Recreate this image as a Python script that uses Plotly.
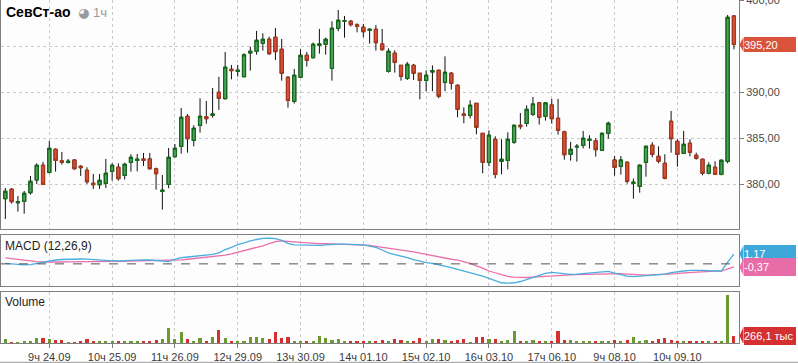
import plotly.graph_objects as go

# ---------------- data ----------------
opens = [378.44, 379.46, 378.00, 378.15, 379.09, 380.47, 382.07, 381.30, 383.80, 382.54,
         382.39, 382.64, 381.96, 381.52, 380.11, 379.96, 380.11, 381.41, 381.85, 380.98,
         382.39, 382.61, 382.75, 382.75, 381.67, 379.24, 380.00, 383.01, 384.13, 387.39,
         384.78, 386.41, 387.32, 387.50, 390.00, 389.31, 392.50, 392.28, 391.70, 394.28,
         394.46, 395.33, 395.76, 395.98, 394.67, 391.63, 389.02, 391.63, 394.02, 393.77,
         395.11, 395.22, 392.61, 396.96, 397.72, 397.72, 397.32, 397.07, 396.74, 396.85,
         395.25, 392.28, 394.24, 392.93, 391.52, 392.93, 392.07, 391.30, 392.21, 392.39,
         391.09, 392.07, 390.76, 387.64, 387.50, 388.80, 385.54, 382.39, 384.89, 382.50,
         382.61, 384.57, 386.41, 386.63, 387.61, 388.84, 387.39, 388.62, 387.17, 385.69,
         383.26, 384.06, 384.24, 384.78, 384.71, 383.70, 385.54, 382.64, 381.96, 382.39,
         380.11, 379.78, 382.39, 384.24, 383.04, 382.28, 386.85, 384.67, 383.37, 384.46,
         383.15, 382.72, 381.20, 381.85, 381.09, 382.50, 398.29]
highs = [379.60, 379.60, 378.73, 379.28, 380.91, 382.28, 382.43, 384.71, 383.91, 383.51,
         382.75, 382.72, 382.07, 381.85, 381.12, 381.12, 382.75, 382.28, 382.28, 382.36,
         383.26, 383.30, 383.41, 383.41, 381.81, 381.01, 383.95, 384.38, 388.30, 387.64,
         386.41, 389.35, 389.06, 390.47, 391.67, 394.38, 392.97, 392.97, 394.24, 394.96,
         396.67, 396.41, 396.05, 396.99, 395.80, 391.74, 392.54, 394.67, 394.38, 395.40,
         396.88, 395.94, 397.72, 398.95, 398.30, 397.86, 397.50, 397.43, 396.92, 397.32,
         396.88, 394.78, 394.57, 392.93, 393.30, 393.08, 392.07, 392.39, 392.93, 392.46,
         393.91, 392.21, 390.87, 388.37, 389.13, 388.80, 385.54, 385.87, 385.22, 384.89,
         385.65, 386.50, 387.75, 388.59, 389.49, 388.95, 388.95, 389.28, 389.28, 385.83,
         384.60, 384.38, 385.80, 385.33, 385.00, 385.62, 386.81, 383.08, 383.08, 382.50,
         380.62, 382.17, 384.20, 384.57, 384.13, 383.26, 387.97, 384.89, 385.80, 384.89,
         383.44, 382.79, 382.39, 382.50, 382.72, 398.40, 398.40]
lows = [376.23, 377.90, 377.03, 376.81, 378.88, 380.04, 379.95, 381.16, 381.38, 382.14,
        382.25, 381.59, 380.91, 380.04, 379.49, 379.49, 379.60, 380.40, 380.40, 380.51,
        381.38, 381.41, 381.99, 381.59, 379.42, 377.25, 379.57, 382.90, 383.33, 383.44,
        384.13, 385.62, 386.59, 387.25, 388.08, 389.20, 391.41, 391.70, 391.63, 392.36,
        394.09, 394.53, 394.06, 393.51, 391.27, 388.33, 388.77, 391.55, 392.79, 393.66,
        394.20, 394.09, 391.27, 396.63, 395.94, 397.14, 396.52, 395.98, 395.29, 394.53,
        394.53, 392.14, 392.14, 391.27, 391.34, 391.34, 389.24, 390.11, 390.11, 389.35,
        390.11, 390.29, 387.28, 386.63, 387.17, 385.43, 381.20, 381.96, 380.65, 381.09,
        381.63, 384.40, 385.98, 386.27, 387.43, 386.49, 386.92, 386.59, 385.40, 382.68,
        382.57, 382.46, 383.91, 383.88, 383.01, 383.62, 384.96, 380.94, 381.05, 380.07,
        378.44, 379.09, 380.83, 382.93, 382.28, 380.54, 383.44, 381.92, 383.30, 383.04,
        382.68, 380.98, 381.09, 381.05, 380.98, 382.28, 394.67]
closes = [379.24, 378.12, 378.10, 379.02, 380.33, 382.07, 380.00, 383.91, 382.61, 382.39,
          382.50, 381.70, 381.81, 380.29, 379.96, 380.43, 381.20, 382.07, 380.62, 382.17,
          382.93, 382.72, 382.61, 381.70, 381.16, 379.35, 382.93, 383.91, 387.28, 384.96,
          386.09, 387.39, 387.14, 387.64, 389.35, 392.72, 392.36, 392.39, 394.06, 394.46,
          395.65, 395.76, 394.20, 394.42, 392.07, 389.13, 391.85, 394.02, 393.48, 395.22,
          395.25, 395.76, 396.96, 397.83, 397.79, 397.36, 397.17, 396.59, 396.85, 395.40,
          394.64, 394.46, 393.26, 391.74, 393.04, 392.07, 391.30, 391.85, 392.36, 389.57,
          392.17, 390.98, 388.15, 387.50, 388.59, 386.20, 382.39, 385.33, 381.09, 382.72,
          384.89, 386.41, 386.27, 388.15, 388.73, 387.28, 388.84, 387.14, 385.87, 383.22,
          383.80, 384.13, 385.00, 384.89, 383.77, 385.54, 386.63, 381.85, 382.64, 380.33,
          380.22, 382.07, 384.13, 383.26, 382.50, 380.65, 384.96, 383.26, 384.35, 383.48,
          382.83, 381.20, 382.07, 381.09, 382.61, 398.15, 395.20]
volumes = [157, 20, 20, 48, 48, 194, 194, 157, 121, 121,
           25, 25, 48, 157, 48, 85, 48, 48, 48, 48,
           48, 48, 48, 48, 121, 157, 557, 157, 411, 157,
           85, 194, 48, 230, 484, 194, 85, 48, 85, 230,
           230, 194, 157, 411, 194, 230, 85, 85, 85, 48,
           266, 194, 121, 157, 85, 48, 48, 48, 85, 85,
           121, 48, 157, 121, 85, 85, 194, 85, 157, 157,
           121, 85, 121, 157, 25, 230, 230, 157, 157, 85,
           121, 448, 48, 85, 121, 85, 48, 48, 448, 121,
           121, 48, 48, 48, 48, 85, 85, 121, 85, 121,
           230, 48, 121, 48, 157, 194, 121, 48, 48, 48,
           48, 85, 48, 48, 85, 1754, 266.1]
macd_line = [0.05, -0.02, -0.10, -0.13, -0.10, 0.05, 0.20, 0.38, 0.46, 0.52,
             0.56, 0.58, 0.58, 0.56, 0.50, 0.42, 0.36, 0.35, 0.35, 0.38,
             0.44, 0.50, 0.48, 0.46, 0.42, 0.30, 0.27, 0.55, 0.74, 0.82,
             0.90, 0.98, 1.05, 1.12, 1.30, 1.70, 1.95, 2.30, 2.50, 2.75,
             2.90, 3.04, 3.05, 3.00, 2.80, 2.45, 2.25, 2.22, 2.20, 2.18,
             2.20, 2.26, 2.32, 2.35, 2.34, 2.33, 2.30, 2.25, 2.12, 1.95,
             1.65, 1.30, 1.10, 0.95, 0.75, 0.50, 0.30, 0.15, 0.05, -0.10,
             -0.28, -0.45, -0.65, -0.85, -1.00, -1.20, -1.45, -1.72, -2.00, -2.25,
             -2.30, -2.25, -2.10, -1.85, -1.55, -1.30, -1.12, -1.02, -1.10, -1.22,
             -1.25, -1.22, -1.15, -1.10, -1.05, -0.95, -0.90, -1.10, -1.30, -1.45,
             -1.52, -1.45, -1.35, -1.30, -1.26, -1.22, -1.05, -0.92, -0.85, -0.78,
             -0.76, -0.78, -0.82, -0.85, -0.85, 0.20, 1.17]
signal_line = [0.72, 0.62, 0.52, 0.42, 0.34, 0.27, 0.22, 0.20, 0.20, 0.22,
               0.24, 0.26, 0.27, 0.28, 0.28, 0.28, 0.29, 0.30, 0.31, 0.32,
               0.34, 0.36, 0.37, 0.38, 0.38, 0.38, 0.38, 0.42, 0.48, 0.55,
               0.62, 0.70, 0.78, 0.86, 0.95, 1.05, 1.20, 1.38, 1.55, 1.75,
               1.95, 2.15, 2.40, 2.65, 2.73, 2.70, 2.62, 2.55, 2.48, 2.44,
               2.42, 2.40, 2.38, 2.37, 2.36, 2.35, 2.33, 2.28, 2.20, 2.08,
               1.98, 1.88, 1.78, 1.68, 1.55, 1.42, 1.28, 1.12, 0.98, 0.85,
               0.70, 0.55, 0.45, 0.25, 0.05, -0.25, -0.50, -0.85, -1.05, -1.30,
               -1.50, -1.58, -1.64, -1.62, -1.58, -1.52, -1.46, -1.40, -1.35, -1.32,
               -1.30, -1.28, -1.26, -1.24, -1.20, -1.16, -1.13, -1.13, -1.17, -1.22,
               -1.28, -1.32, -1.33, -1.32, -1.30, -1.28, -1.22, -1.15, -1.08, -1.02,
               -0.96, -0.92, -0.89, -0.87, -0.85, -0.62, -0.37]
tick_idx = [7, 17, 27, 37, 47, 57, 67, 77, 87, 97, 107]
tick_text = ["9ч 24.09", "10ч 25.09", "11ч 26.09", "12ч 29.09", "13ч 30.09", "14ч 01.10",
             "15ч 02.10", "16ч 03.10", "17ч 06.10", "9ч 08.10", "10ч 09.10"]
price_ticks = [380, 385, 390, 395, 400]

# ---------------- derived ----------------
x = list(range(len(opens)))
body_hi = [max(o, c) for o, c in zip(opens, closes)]
body_lo = [min(o, c) for o, c in zip(opens, closes)]
vol_colors = ["#6b9b2c" if c >= o else "#d3302f" for o, c in zip(opens, closes)]

FONT = "Arial, Liberation Sans, sans-serif"
W, H = 798, 363
ML, MR, MT, MB = 1, 59, 0, 20
PW = W - ML - MR
PH = H - MT - MB

def px_x(px):
    return (px - ML) / PW

def px_y(py):
    return (H - MB - py) / PH

XR = [-0.69, 116.81]
Y1 = [375.11, 400.03]
Y2 = [-2.67, 3.40]
Y3 = [0, 1850]

fig = go.Figure()

# wicks (black)
fig.add_trace(go.Candlestick(
    x=x, open=opens, high=highs, low=lows, close=closes,
    increasing=dict(line=dict(color="#111111", width=1), fillcolor="#111111"),
    decreasing=dict(line=dict(color="#111111", width=1), fillcolor="#111111"),
    whiskerwidth=0, xaxis="x", yaxis="y", showlegend=False, hoverinfo="skip"))
# bodies
fig.add_trace(go.Candlestick(
    x=x, open=opens, high=body_hi, low=body_lo, close=closes,
    increasing=dict(line=dict(color="#116b16", width=1.2), fillcolor="#4f9f63"),
    decreasing=dict(line=dict(color="#a8371b", width=1.2), fillcolor="#da5038"),
    whiskerwidth=0, xaxis="x", yaxis="y", showlegend=False, hoverinfo="skip"))

# MACD
fig.add_trace(go.Scatter(x=x, y=signal_line, mode="lines",
                         line=dict(color="#ea6fa9", width=1.3),
                         xaxis="x2", yaxis="y2", showlegend=False, hoverinfo="skip"))
fig.add_trace(go.Scatter(x=x, y=macd_line, mode="lines",
                         line=dict(color="#49addf", width=1.3),
                         xaxis="x2", yaxis="y2", showlegend=False, hoverinfo="skip"))

# Volume
fig.add_trace(go.Bar(x=x, y=volumes, marker=dict(color=vol_colors, line=dict(width=0)),
                     width=0.5, xaxis="x3", yaxis="y3", showlegend=False, hoverinfo="skip"))

FRAME = "#7f7f7f"
GRID = "#c9c9c9"
xcommon = dict(range=XR, tickmode="array", tickvals=tick_idx, showgrid=True,
               gridcolor=GRID, griddash="dot", gridwidth=1, zeroline=False,
               showline=True, mirror=True, linecolor=FRAME, linewidth=1,
               rangeslider=dict(visible=False), automargin=False)

D1 = [px_y(229.3), 1.0]
D2 = [px_y(286.3), px_y(235.3)]
D3 = [0.0, px_y(292.0)]

fig.update_layout(
    width=W, height=H,
    margin=dict(l=ML, r=MR, t=MT, b=MB, autoexpand=False),
    paper_bgcolor="white", plot_bgcolor="#fdfdfd",
    separators=", ",
    font=dict(family=FONT, size=11, color="#444444"),
    xaxis=dict(**xcommon, domain=[0, 1], anchor="y", showticklabels=False, ticks=""),
    xaxis2=dict(**xcommon, domain=[0, 1], anchor="y2", matches="x", showticklabels=False, ticks=""),
    xaxis3=dict(**xcommon, domain=[0, 1], anchor="y3", matches="x", showticklabels=True,
                ticktext=tick_text, ticks="outside", ticklen=4, tickcolor=FRAME,
                tickfont=dict(family=FONT, size=11, color="#3a3a3a")),
    yaxis=dict(domain=D1, range=Y1, side="right", anchor="x", tickmode="array",
               tickvals=price_ticks, tickformat=".2f", showgrid=True, gridcolor=GRID,
               griddash="dot", zeroline=False, showline=True, mirror=True,
               linecolor=FRAME, linewidth=1, ticks="outside", ticklen=4, tickcolor=FRAME,
               ticklabeloverflow="allow", automargin=False,
               tickfont=dict(family=FONT, size=11, color="#4a4a4a")),
    yaxis2=dict(domain=D2, range=Y2, side="right", anchor="x2", showticklabels=False,
                showgrid=False, zeroline=False, showline=True, mirror=True,
                linecolor=FRAME, linewidth=1, ticks="", automargin=False),
    yaxis3=dict(domain=D3, range=Y3, side="right", anchor="x3", showticklabels=False,
                showgrid=False, zeroline=False, showline=True, mirror=True,
                linecolor=FRAME, linewidth=1, ticks="", automargin=False),
    bargap=0,
)

shapes = []
# MACD zero line
shapes.append(dict(type="line", xref="x2 domain", yref="y2", x0=0, x1=1, y0=0, y1=0,
                   line=dict(color="#555555", width=1, dash="dash")))
# bottom border of chart
shapes.append(dict(type="line", xref="paper", yref="paper", x0=px_x(0), x1=px_x(798),
                   y0=px_y(362.3), y1=px_y(362.3), line=dict(color="#9a9a9a", width=1)))

annotations = []

def value_label(text, yref, yval, units_per_px, color, h):
    half = h / 2 * units_per_px
    tip = px_x(739.5)
    base = px_x(743.5)
    shapes.append(dict(type="path", xref="paper", yref=yref,
                       path=f"M {tip},{yval} L {base},{yval + half} L {base},{yval - half} Z",
                       fillcolor=color, line=dict(width=0)))
    annotations.append(dict(xref="paper", yref=yref, x=base, y=yval, xanchor="left",
                            yanchor="middle", text=text, showarrow=False,
                            bgcolor=color, borderpad=0, borderwidth=0,
                            width=52, height=h, align="left",
                            font=dict(family=FONT, size=11, color="white")))

u1 = (Y1[1] - Y1[0]) / ((D1[1] - D1[0]) * PH)
u2 = (Y2[1] - Y2[0]) / ((D2[1] - D2[0]) * PH)
u3 = (Y3[1] - Y3[0]) / ((D3[1] - D3[0]) * PH)

value_label("395,20", "y", closes[-1], u1, "#d9533b", 15)
value_label("1,17", "y2", macd_line[-1], u2, "#3fa8db", 18)
value_label("-0,37", "y2", signal_line[-1], u2, "#e86ca7", 18)
value_label("266,1 тыс", "y3", volumes[-1], u3, "#d3302f", 18)

# titles
annotations.append(dict(xref="paper", yref="paper", x=px_x(4), y=px_y(12), xanchor="left",
                        yanchor="middle", text="<b>СевСт-ао</b>", showarrow=False,
                        font=dict(family=FONT, size=14, color="#000000")))
annotations.append(dict(xref="paper", yref="paper", x=px_x(76), y=px_y(12.5), xanchor="left",
                        yanchor="middle", text="◕", showarrow=False,
                        font=dict(family="DejaVu Sans", size=13, color="#9a9a9a")))
annotations.append(dict(xref="paper", yref="paper", x=px_x(91), y=px_y(12.5), xanchor="left",
                        yanchor="middle", text="1ч", showarrow=False,
                        font=dict(family=FONT, size=13, color="#9a9a9a")))
annotations.append(dict(xref="paper", yref="paper", x=px_x(3), y=px_y(246), xanchor="left",
                        yanchor="middle", text="MACD (12,26,9)", showarrow=False,
                        font=dict(family=FONT, size=12, color="#1e1e1e")))
annotations.append(dict(xref="paper", yref="paper", x=px_x(3), y=px_y(302), xanchor="left",
                        yanchor="middle", text="Volume", showarrow=False,
                        font=dict(family=FONT, size=12, color="#1e1e1e")))

fig.update_layout(shapes=shapes, annotations=annotations)

fig.write_html("out.html", config={"displayModeBar": False},
               post_script="document.body.style.margin='0';document.body.style.padding='0';")
